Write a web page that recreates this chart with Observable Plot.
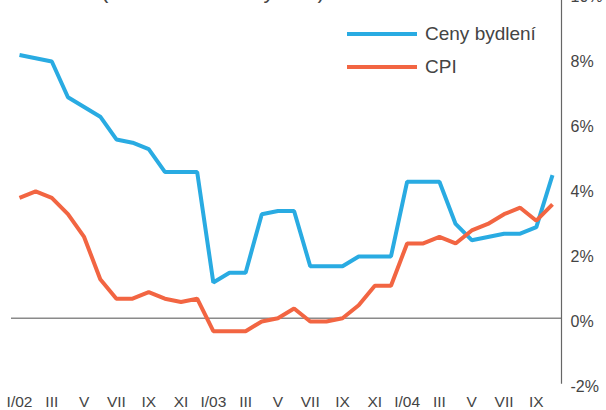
<!DOCTYPE html>
<html>
<head>
<meta charset="utf-8">
<script src="https://cdn.jsdelivr.net/npm/d3@7"></script>
<script src="https://cdn.jsdelivr.net/npm/@observablehq/plot@0.6"></script>
<style>
  html, body { margin: 0; padding: 0; background: #fff; }
  #wrap { position: relative; width: 606px; height: 410px; overflow: hidden; font-family: "Liberation Sans", Arial, sans-serif; color: #444; }
  #wrap svg { display: block; margin-top: -30px; }
  .title { position: absolute; left: 101px; top: -20px; font-size: 22px; line-height: 22px; white-space: nowrap; }
  .lg-line { position: absolute; left: 347px; width: 70px; height: 4px; }
  .lg-text { position: absolute; left: 425px; font-size: 19px; line-height: 22px; white-space: nowrap; }
</style>
</head>
<body>
<div id="wrap"></div>
<script>
// ---- data ----
const monthLabels = ["I/02","II","III","IV","V","VI","VII","VIII","IX","X","XI","XII",
                     "I/03","II","III","IV","V","VI","VII","VIII","IX","X","XI","XII",
                     "I/04","II","III","IV","V","VI","VII","VIII","IX","X"];
const seriesNames = ["Ceny bydlení", "CPI"];
const housing = [8.1, 8.0, 7.9, 6.8, 6.5, 6.2, 5.5, 5.4, 5.2, 4.5, 4.5, 4.5,
                 1.1, 1.4, 1.4, 3.2, 3.3, 3.3, 1.6, 1.6, 1.6, 1.9, 1.9, 1.9,
                 4.2, 4.2, 4.2, 2.9, 2.4, 2.5, 2.6, 2.6, 2.8, 4.4];
const cpi = [3.7, 3.9, 3.7, 3.2, 2.5, 1.2, 0.6, 0.6, 0.8, 0.6, 0.5, 0.6,
             -0.4, -0.4, -0.4, -0.1, 0.0, 0.3, -0.1, -0.1, 0.0, 0.4, 1.0, 1.0,
             2.3, 2.3, 2.5, 2.3, 2.7, 2.9, 3.2, 3.4, 3.0, 3.5];
const yTicks = [-2, 0, 2, 4, 6, 8, 10];
const xTickIdx = monthLabels.map((m, i) => i).filter(i => i % 2 === 0);
const titleText = "(meziroční změny v %)";
const colors = ["#29abe2", "#f26542"];

const data = monthLabels.flatMap((m, i) => [
  {i, v: housing[i], s: seriesNames[0]},
  {i, v: cpi[i], s: seriesNames[1]}
]);

const chart = Plot.plot({
  width: 606,
  height: 440,
  marginTop: 22.7,
  marginBottom: 27.3,
  marginLeft: 11,
  marginRight: 45,
  style: {fontFamily: "Liberation Sans, Arial, sans-serif", fontSize: "16px", color: "#444", background: "transparent"},
  x: {domain: [0, monthLabels.length - 1], range: [19, 552]},
  y: {domain: [-2, 10], range: [412.7, 22.7]},
  color: {domain: seriesNames, range: colors},
  marks: [
    Plot.ruleY([0], {stroke: "#8a8a8a", strokeWidth: 1.5}),
    Plot.frame({anchor: "right", stroke: "#666", strokeWidth: 1.2}),
    Plot.line(data, {x: "i", y: "v", z: "s", stroke: "s", strokeWidth: 4, strokeLinejoin: "miter", strokeLinecap: "butt"}),
    Plot.axisY(yTicks, {anchor: "right", tickSize: 0, tickPadding: 9, tickFormat: d => d + "%", dy: 4, label: null, fontSize: 16}),
    Plot.axisX(xTickIdx, {anchor: "bottom", tickSize: 0, tickPadding: 13, tickFormat: i => monthLabels[i], label: null, fontSize: 15.5})
  ]
});

const wrap = document.getElementById("wrap");
wrap.appendChild(chart);

const t = document.createElement("div");
t.className = "title"; t.textContent = titleText; wrap.appendChild(t);

const legendY = [34, 67];
seriesNames.forEach((name, k) => {
  const l = document.createElement("div");
  l.className = "lg-line"; l.style.top = (legendY[k] - 2) + "px"; l.style.background = colors[k];
  wrap.appendChild(l);
  const tx = document.createElement("div");
  tx.className = "lg-text"; tx.style.top = (legendY[k] - 11) + "px"; tx.textContent = name;
  wrap.appendChild(tx);
});
</script>
</body>
</html>
